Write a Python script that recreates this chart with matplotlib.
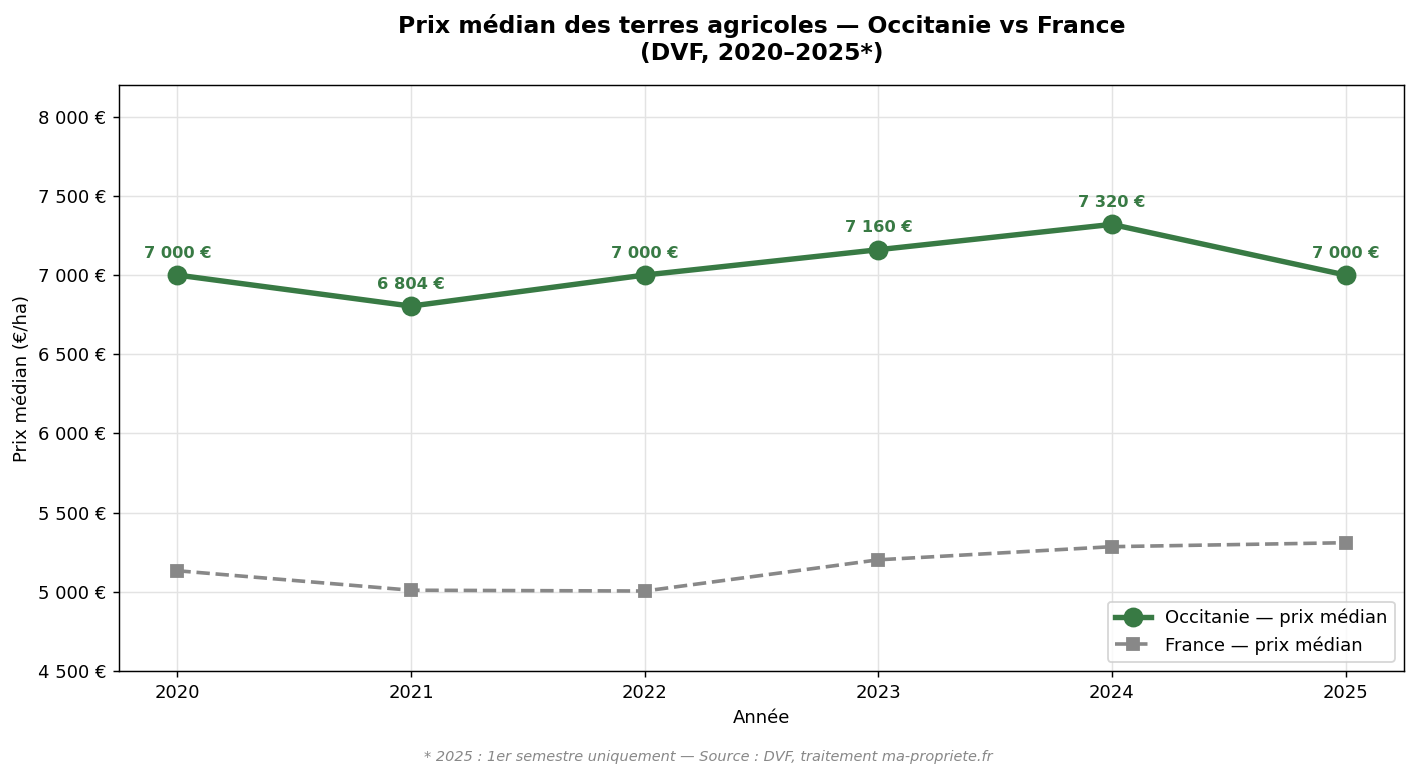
import matplotlib
matplotlib.use("Agg")
import matplotlib.pyplot as plt
from matplotlib.ticker import FuncFormatter

years = [2020, 2021, 2022, 2023, 2024, 2025]
occitanie = [7000, 6804, 7000, 7160, 7320, 7000]
france = [5133, 5010, 5005, 5202, 5285, 5310]
yticks = [4500, 5000, 5500, 6000, 6500, 7000, 7500, 8000]

green = "#387a44"
gray = "#888888"

def eur(v):
    return f"{int(round(v)):,}".replace(",", " ") + " €"

DPI = 130
fig = plt.figure(figsize=(1416 / DPI, 778 / DPI), dpi=DPI)
ax = fig.add_axes([119 / 1416, 1 - 671 / 778, (1404 - 119) / 1416, (671 - 85) / 778])

ax.plot(years, occitanie, color=green, lw=3, marker="o", ms=10,
        label="Occitanie — prix médian", zorder=3)
ax.plot(years, france, color=gray, lw=2, ls="--", marker="s", ms=7,
        label="France — prix médian", zorder=3)

for x, y in zip(years, occitanie):
    ax.annotate(eur(y), (x, y), xytext=(0, 8), textcoords="offset points",
                ha="center", va="bottom", color=green, fontsize=9, fontweight="bold")

ax.set_xlim(2019.75, 2025.25)
ax.set_ylim(4500, 8200)
ax.set_xticks(years)
ax.set_yticks(yticks)
ax.yaxis.set_major_formatter(FuncFormatter(lambda v, p: eur(v)))
ax.grid(True, color="#e3e3e3", lw=0.8)
ax.set_axisbelow(True)
ax.set_xlabel("Année")
ax.set_ylabel("Prix médian (€/ha)")
ax.set_title("Prix médian des terres agricoles — Occitanie vs France\n(DVF, 2020–2025*)",
             fontsize=13, fontweight="bold", pad=14)
ax.legend(loc="lower right", fontsize=10)

fig.text(0.5, 1 - 757 / 778, "* 2025 : 1er semestre uniquement — Source : DVF, traitement ma-propriete.fr",
         ha="center", va="center", fontsize=8, style="italic", color="#888888")

fig.savefig("out.png", dpi=DPI)
